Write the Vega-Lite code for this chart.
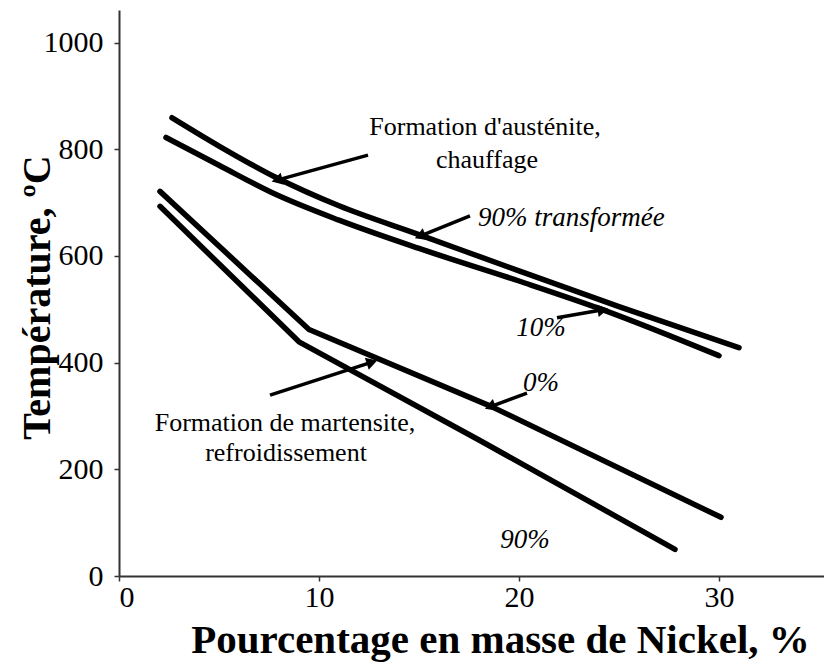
{
  "$schema": "https://vega.github.io/schema/vega-lite/v6.json",
  "autosize": {"type": "none"},
  "width": 705,
  "height": 566,
  "padding": {"left": 119, "top": 10, "right": 0, "bottom": 88},
  "background": "white",
  "config": {
    "view": {"stroke": null},
    "font": "Liberation Serif"
  },
  "datasets": {
    "austenite": [
      {"series": "Austénite 90%", "x": 2.65, "y": 859},
      {"series": "Austénite 90%", "x": 5.0, "y": 806},
      {"series": "Austénite 90%", "x": 7.8, "y": 748},
      {"series": "Austénite 90%", "x": 11.0, "y": 694},
      {"series": "Austénite 90%", "x": 15.0, "y": 640},
      {"series": "Austénite 90%", "x": 20.0, "y": 572},
      {"series": "Austénite 90%", "x": 25.0, "y": 505},
      {"series": "Austénite 90%", "x": 31.0, "y": 428},
      {"series": "Austénite 10%", "x": 2.35, "y": 822},
      {"series": "Austénite 10%", "x": 5.0, "y": 770},
      {"series": "Austénite 10%", "x": 7.8, "y": 716},
      {"series": "Austénite 10%", "x": 11.0, "y": 667},
      {"series": "Austénite 10%", "x": 15.0, "y": 614},
      {"series": "Austénite 10%", "x": 20.0, "y": 553},
      {"series": "Austénite 10%", "x": 24.2, "y": 499},
      {"series": "Austénite 10%", "x": 30.0, "y": 413}
    ],
    "martensite": [
      {"series": "Martensite 0%", "x": 2.05, "y": 721},
      {"series": "Martensite 0%", "x": 9.5, "y": 462},
      {"series": "Martensite 0%", "x": 18.6, "y": 318},
      {"series": "Martensite 0%", "x": 30.1, "y": 110},
      {"series": "Martensite 90%", "x": 2.05, "y": 693},
      {"series": "Martensite 90%", "x": 9.0, "y": 439},
      {"series": "Martensite 90%", "x": 18.0, "y": 255},
      {"series": "Martensite 90%", "x": 27.8, "y": 50}
    ],
    "arrows": [
      {"id": "a1", "x": 12.45, "y": 789, "x2": 7.9, "y2": 742},
      {"id": "a2", "x": 17.55, "y": 675, "x2": 15.05, "y2": 637},
      {"id": "a3", "x": 21.9, "y": 484, "x2": 24.2, "y2": 499},
      {"id": "a4", "x": 20.4, "y": 343, "x2": 18.55, "y2": 317},
      {"id": "a5", "x": 7.55, "y": 339, "x2": 12.65, "y2": 401}
    ],
    "notes": [
      {"text": "Formation d'austénite,", "x": 18.3, "y": 842},
      {"text": "chauffage", "x": 18.4, "y": 780},
      {"text": "Formation de martensite,", "x": 8.3, "y": 287},
      {"text": "refroidissement", "x": 8.35, "y": 231}
    ],
    "italics": [
      {"text": "10%", "x": 21.1, "y": 465},
      {"text": "0%", "x": 21.1, "y": 362},
      {"text": "90%", "x": 20.3, "y": 67}
    ],
    "italicLeft": [
      {"text": "90% transformée", "x": 17.95, "y": 671}
    ]
  },
  "layer": [
    {
      "data": {"name": "austenite"},
      "mark": {"type": "line", "color": "black", "strokeWidth": 5.5, "strokeCap": "round", "strokeJoin": "round", "interpolate": "monotone"},
      "encoding": {
        "x": {
          "field": "x", "type": "quantitative",
          "scale": {"domain": [0, 35.25], "nice": false, "zero": false},
          "axis": {
            "values": [0, 10, 20, 30], "grid": false, "domainColor": "#333333", "domainWidth": 2,
            "tickColor": "#333333", "tickSize": 5, "tickWidth": 1.5,
            "labelFont": "Liberation Serif", "labelFontSize": 30, "labelColor": "black", "labelPadding": 1,
            "title": "Pourcentage en masse de Nickel, %", "titleFont": "Liberation Serif",
            "titleFontSize": 41, "titleFontWeight": "bold", "titleColor": "black",
            "titleX": 381, "titleY": 76, "titleAlign": "center", "titleBaseline": "alphabetic", "titleAnchor": null
          }
        },
        "y": {
          "field": "y", "type": "quantitative",
          "scale": {"domain": [0, 1061], "nice": false, "zero": false},
          "axis": {
            "values": [0, 200, 400, 600, 800, 1000], "format": "d", "grid": false, "domainColor": "#333333", "domainWidth": 2,
            "tickColor": "#333333", "tickSize": 5, "tickWidth": 1.5,
            "labelFont": "Liberation Serif", "labelFontSize": 30, "labelColor": "black", "labelPadding": 11,
            "title": "Température, ºC", "titleFont": "Liberation Serif",
            "titleFontSize": 40, "titleFontWeight": "bold", "titleColor": "black",
            "titleX": -82, "titleY": 287, "titleAngle": -90, "titleAlign": "center", "titleBaseline": "middle", "titleAnchor": null
          }
        },
        "detail": {"field": "series", "type": "nominal"}
      }
    },
    {
      "data": {"name": "martensite"},
      "mark": {"type": "line", "color": "black", "strokeWidth": 5.5, "strokeCap": "round", "strokeJoin": "round"},
      "encoding": {
        "x": {"field": "x", "type": "quantitative"},
        "y": {"field": "y", "type": "quantitative"},
        "detail": {"field": "series", "type": "nominal"}
      }
    },
    {
      "data": {"name": "arrows"},
      "mark": {"type": "rule", "color": "black", "strokeWidth": 3.5},
      "encoding": {
        "x": {"field": "x", "type": "quantitative"},
        "y": {"field": "y", "type": "quantitative"},
        "x2": {"field": "x2"},
        "y2": {"field": "y2"}
      }
    },
    {
      "data": {"name": "arrows"},
      "transform": [{"filter": "datum.id === 'a1'"}],
      "mark": {"type": "point", "shape": "triangle-up", "filled": true, "color": "black", "opacity": 1, "size": 160, "angle": 255},
      "encoding": {"x": {"field": "x2", "type": "quantitative"}, "y": {"field": "y2", "type": "quantitative"}}
    },
    {
      "data": {"name": "arrows"},
      "transform": [{"filter": "datum.id === 'a2'"}],
      "mark": {"type": "point", "shape": "triangle-up", "filled": true, "color": "black", "opacity": 1, "size": 160, "angle": 248},
      "encoding": {"x": {"field": "x2", "type": "quantitative"}, "y": {"field": "y2", "type": "quantitative"}}
    },
    {
      "data": {"name": "arrows"},
      "transform": [{"filter": "datum.id === 'a3'"}],
      "mark": {"type": "point", "shape": "triangle-up", "filled": true, "color": "black", "opacity": 1, "size": 160, "angle": 80},
      "encoding": {"x": {"field": "x2", "type": "quantitative"}, "y": {"field": "y2", "type": "quantitative"}}
    },
    {
      "data": {"name": "arrows"},
      "transform": [{"filter": "datum.id === 'a4'"}],
      "mark": {"type": "point", "shape": "triangle-up", "filled": true, "color": "black", "opacity": 1, "size": 160, "angle": 249},
      "encoding": {"x": {"field": "x2", "type": "quantitative"}, "y": {"field": "y2", "type": "quantitative"}}
    },
    {
      "data": {"name": "arrows"},
      "transform": [{"filter": "datum.id === 'a5'"}],
      "mark": {"type": "point", "shape": "triangle-up", "filled": true, "color": "black", "opacity": 1, "size": 160, "angle": 72},
      "encoding": {"x": {"field": "x2", "type": "quantitative"}, "y": {"field": "y2", "type": "quantitative"}}
    },
    {
      "data": {"name": "notes"},
      "mark": {"type": "text", "font": "Liberation Serif", "fontSize": 26, "color": "black", "align": "center", "baseline": "middle"},
      "encoding": {
        "x": {"field": "x", "type": "quantitative"},
        "y": {"field": "y", "type": "quantitative"},
        "text": {"field": "text"}
      }
    },
    {
      "data": {"name": "italics"},
      "mark": {"type": "text", "font": "Liberation Serif", "fontStyle": "italic", "fontSize": 27, "color": "black", "align": "center", "baseline": "middle"},
      "encoding": {
        "x": {"field": "x", "type": "quantitative"},
        "y": {"field": "y", "type": "quantitative"},
        "text": {"field": "text"}
      }
    },
    {
      "data": {"name": "italicLeft"},
      "mark": {"type": "text", "font": "Liberation Serif", "fontStyle": "italic", "fontSize": 27, "color": "black", "align": "left", "baseline": "middle"},
      "encoding": {
        "x": {"field": "x", "type": "quantitative"},
        "y": {"field": "y", "type": "quantitative"},
        "text": {"field": "text"}
      }
    }
  ]
}
